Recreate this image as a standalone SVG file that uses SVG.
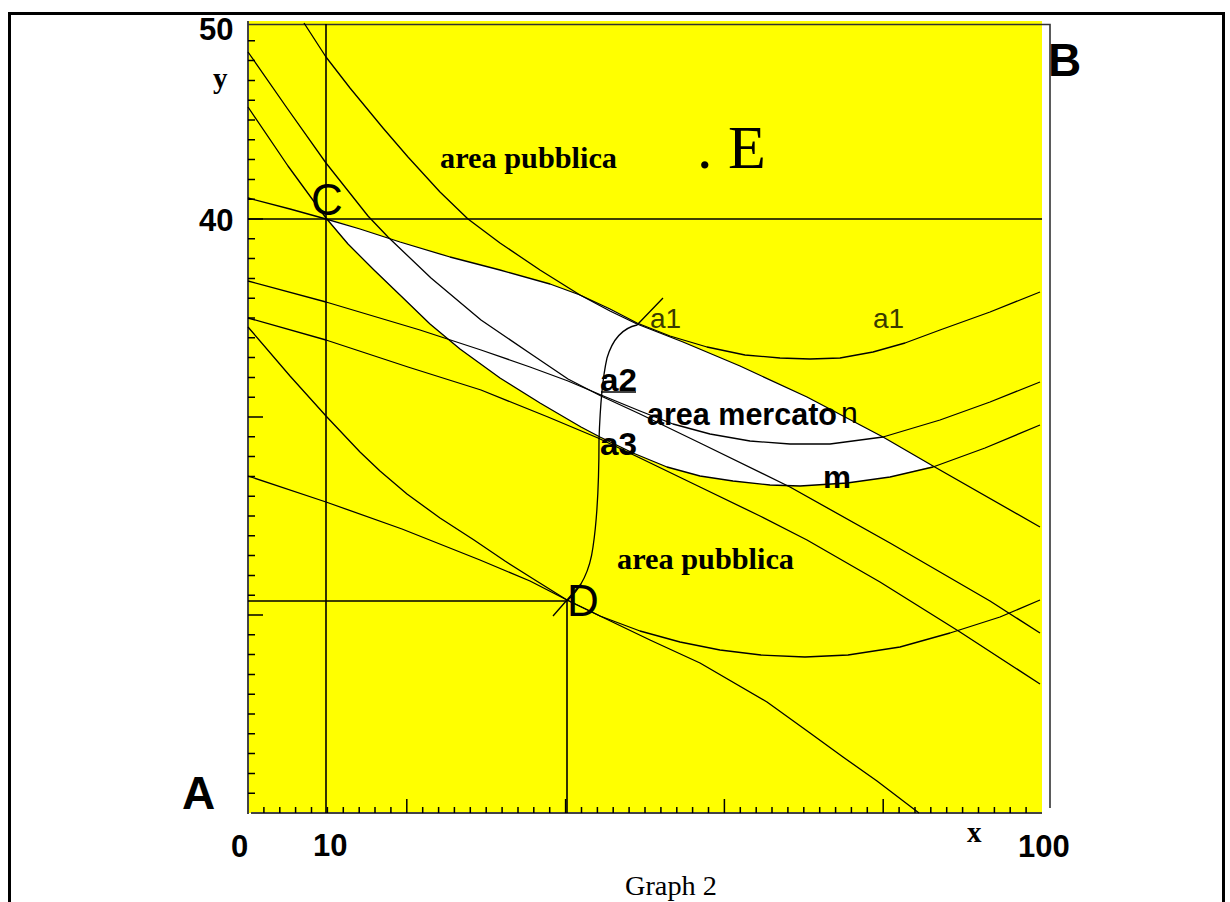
<svg xmlns="http://www.w3.org/2000/svg" width="1230" height="902" viewBox="0 0 1230 902">
  <style>
    .curve { fill: none; stroke: #000; stroke-width: 1.3; stroke-linejoin: round; }
    .ref { fill: none; stroke: #000; stroke-width: 1.6; }
    .axis { fill: none; stroke: #444; stroke-width: 2; }
    .tick { fill: none; stroke: #000; stroke-width: 1.5; }
    .num { font-family: "Liberation Sans", Arial, sans-serif; font-weight: bold; font-size: 31px; fill: #000; }
    .big { font-family: "Liberation Sans", Arial, sans-serif; font-size: 44px; fill: #000; }
    .bigb { font-family: "Liberation Sans", Arial, sans-serif; font-weight: bold; font-size: 46px; fill: #000; }
    .serifb { font-family: "Liberation Serif", "Times New Roman", serif; font-weight: bold; fill: #000; }
    .lab { font-family: "Liberation Sans", Arial, sans-serif; font-size: 28px; fill: #3a3a00; }
    .labb { font-family: "Liberation Sans", Arial, sans-serif; font-weight: bold; font-size: 31px; fill: #000; }
  </style>

  <rect width="1230" height="902" fill="#fff"/>

  <g id="frame">
    <path d="M9.5,902 V13.5 H1223.5 V902" fill="none" stroke="#000" stroke-width="3"/>
  </g>

  <g id="plot-area">
    <rect x="248" y="21" width="794" height="792" fill="#ffff00"/>
    <path d="M251,813 H1042" class="axis"/>
    <path d="M248,21 V814" class="axis" stroke="#666"/>
    <path d="M248,24.5 H1050 V808" fill="none" stroke="#333" stroke-width="1.6"/>
  </g>

  <g id="ticks">
    <path class="tick" d="M248,40.8h7M248,60.6h7M248,80.4h7M248,100.2h7M248,120h7M248,139.8h7M248,159.6h7M248,179.4h7M248,199.2h7M248,219h15M248,238.8h7M248,258.6h7M248,278.4h7M248,298.2h7M248,318h7M248,337.8h7M248,357.6h7M248,377.4h7M248,397.2h7M248,417h15M248,436.8h7M248,456.6h7M248,476.4h7M248,496.2h7M248,516h7M248,535.8h7M248,555.6h7M248,575.4h7M248,595.2h7M248,615h15M248,634.8h7M248,654.6h7M248,674.4h7M248,694.2h7M248,714h7M248,733.8h7M248,753.6h7M248,773.4h7M248,793.2h7"/>
    <path class="tick" d="M263.9,813v-6M279.8,813v-6M295.6,813v-6M311.5,813v-6M327.4,813v-6M343.3,813v-6M359.2,813v-6M375,813v-6M390.9,813v-6M406.8,813v-14M422.7,813v-6M438.6,813v-6M454.4,813v-6M470.3,813v-6M486.2,813v-6M502.1,813v-6M518,813v-6M533.8,813v-6M549.7,813v-6M565.6,813v-14M581.5,813v-6M597.4,813v-6M613.2,813v-6M629.1,813v-6M645,813v-6M660.9,813v-6M676.8,813v-6M692.6,813v-6M708.5,813v-6M724.4,813v-14M740.3,813v-6M756.2,813v-6M772,813v-6M787.9,813v-6M803.8,813v-6M819.7,813v-6M835.6,813v-6M851.4,813v-6M867.3,813v-6M883.2,813v-14M899.1,813v-6M915,813v-6M930.8,813v-6M946.7,813v-6M962.6,813v-6M978.5,813v-6M994.4,813v-6M1010.2,813v-6M1026.1,813v-6"/>
  </g>

  <g id="market-area">
    <path d="M326,218 L360,229 400,242 450,257 500,270 550,284 580,295 610,309 637,323 683,342 740,366 807,397 883,437 933,466 890,477 847,483 800,486 770,485 733,481 700,476 667,467 633,453 600,437 581,427 540,403 500,378 460,349 430,324 400,295 374,270 348,244 Z" fill="#fff"/>
  </g>

  <g id="reference-lines">
    <path class="ref" d="M326,24 V813"/>
    <path class="ref" d="M248,219 H1042"/>
    <path class="ref" d="M248,601 H567 V813"/>
  </g>

  <g id="connectors">
    <polyline class="curve" points="304,23 326,57 350,88 383,128 408,157 440,192 468,219 500,243 540,270 580,295 610,311 637,324 683,342 740,366 807,397 883,437 933,466 1040,527"/>
    <polyline class="curve" points="248,52 287,108 326,163 368,216 388,237 431,278 481,320 531,354 568,379 601,396 640,414 700,443 790,487 890,543 990,601 1040,633"/>
    <polyline class="curve" points="248,107 288,166 326,218 348,244 374,270 400,295 430,324 460,349 500,378 540,403 581,427 600,437 633,453 667,467 700,476 733,481 770,485 800,486 847,483 890,477 933,467 985,448 1040,425"/>
    <polyline class="curve" points="248,198 290,209 326,219 360,229 400,242 450,257 500,270 550,284 580,295 610,309 637,323 670,336 707,347 745,355 780,358 810,359 840,358 873,352 905,343 940,330 990,312 1040,292"/>
    <polyline class="curve" points="248,281 326,302 420,330 481,350 530,367 568,381 601,395 640,411 673,424 710,434 750,441 790,444 830,444 883,437 940,420 990,402 1040,382"/>
    <polyline class="curve" points="248,318 326,340 408,367 481,390 548,417 598,438 640,458 700,487 760,516 807,540 880,582 960,632 1040,684"/>
    <polyline class="curve" points="248,327 290,376 326,416 360,452 380,471 407,494 440,518 474,540 505,561 535,580 567,600 600,616 650,640 700,663 767,702 810,733 843,757 877,781 919,813"/>
    <polyline class="curve" points="248,476 326,502 402,529 480,560 530,581 567,600 600,616 640,631 680,642 720,650 761,655 805,657 848,655 900,647 950,633 1000,617 1040,600"/>
    <path class="curve" d="M567,601 C577,592 589,577 593,547 C597,520 599,480 599,440 C600,410 602,380 607,358 C613,338 623,328 637,325 L663,298"/>
    <path class="curve" d="M553,616 L581,584"/>
    <path class="curve" d="M601,392 H636"/>
  </g>

  <g id="axis-labels">
    <text class="num" x="199" y="40">50</text>
    <text class="num" x="199" y="231">40</text>
    <text class="num" x="231" y="857">0</text>
    <text class="num" x="313" y="856">10</text>
    <text class="num" x="1018" y="857">100</text>
    <text class="serifb" x="213" y="88" font-size="29">y</text>
    <text class="serifb" x="967" y="842" font-size="29">x</text>
  </g>

  <g id="node-A"><text class="bigb" x="182" y="809">A</text></g>
  <g id="node-B"><text class="bigb" x="1048" y="76">B</text></g>
  <g id="node-C"><text class="big" x="311" y="215">C</text></g>
  <g id="node-D"><text class="big" x="567" y="616">D</text></g>
  <g id="node-E"><text x="697" y="168" font-family="Liberation Serif, 'Times New Roman', serif" font-size="62" fill="#000">. E</text></g>

  <g id="area-labels">
    <text class="serifb" x="440" y="168" font-size="30" textLength="177" lengthAdjust="spacingAndGlyphs">area pubblica</text>
    <text class="serifb" x="617" y="569" font-size="30" textLength="177" lengthAdjust="spacingAndGlyphs">area pubblica</text>
    <text class="labb" x="647" y="425" font-size="32" textLength="190" lengthAdjust="spacingAndGlyphs">area mercato</text>
  </g>

  <g id="point-labels">
    <text class="lab" x="650" y="328">a1</text>
    <text class="lab" x="873" y="328">a1</text>
    <text class="labb" x="600" y="391" textLength="37" lengthAdjust="spacingAndGlyphs">a2</text>
    <text class="labb" x="600" y="455" textLength="37" lengthAdjust="spacingAndGlyphs">a3</text>
    <text x="841" y="423" font-family="Liberation Sans, Arial, sans-serif" font-size="30" fill="#000">n</text>
    <text class="labb" x="823" y="488" textLength="28" lengthAdjust="spacingAndGlyphs">m</text>
  </g>

  <g id="caption">
    <text x="625" y="895" font-family="Liberation Serif, 'Times New Roman', serif" font-size="28" fill="#000" textLength="92" lengthAdjust="spacingAndGlyphs">Graph 2</text>
  </g>
</svg>
